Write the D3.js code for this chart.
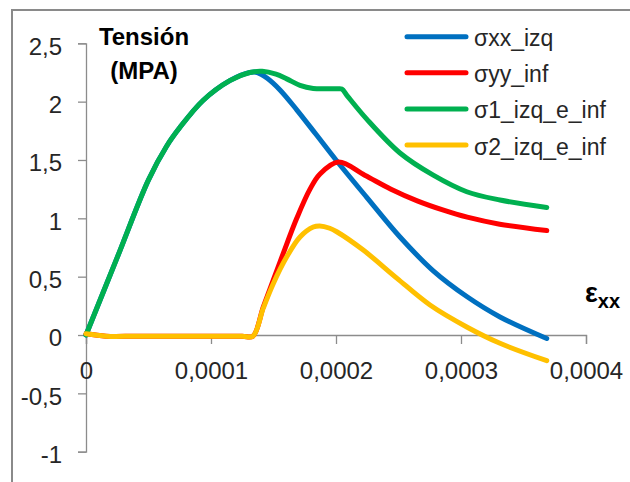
<!DOCTYPE html>
<html><head><meta charset="utf-8">
<script src="https://cdn.jsdelivr.net/npm/d3@7"></script>
<style>
body{margin:0;background:#fff}
svg{display:block}
text{font-family:"Liberation Sans",Arial,sans-serif}
</style>
</head><body>
<svg id="chart" width="630" height="482"></svg>
<script>
// ---- data ----
const seriesNames = ["σxx_izq", "σyy_inf", "σ1_izq_e_inf", "σ2_izq_e_inf"];
const seriesColors = ["#0070C0", "#FF0000", "#00B050", "#FFC000"];

const sxxX = [0, 2.5e-5, 5.0e-5, 6.46e-5, 7.52e-5, 9.36e-5, 11.5e-5, 13.1e-5, 13.7e-5, 14.5e-5, 15.52e-5, 16.86e-5, 18.4e-5, 20.0e-5, 22.46e-5, 25.12e-5, 27.78e-5, 30.46e-5, 33.12e-5, 36.86e-5];
const sxxY = [0, 0.665, 1.33, 1.62, 1.78, 2.01, 2.18, 2.25, 2.25, 2.2, 2.1, 1.93, 1.72, 1.5, 1.18, 0.84, 0.55, 0.33, 0.155, -0.03];

const syyX = [0, 1.6e-5, 4e-5, 7e-5, 10e-5, 12.5e-5, 13.35e-5, 14.18e-5, 14.98e-5, 15.78e-5, 16.86e-5, 17.92e-5, 18.72e-5, 20.2e-5, 22.3e-5, 24.4e-5, 26.5e-5, 28.6e-5, 30.5e-5, 33.1e-5, 36.86e-5];
const syyY = [0.01, -0.01, -0.01, -0.01, -0.01, -0.01, -0.01, 0.24, 0.47, 0.7, 1.0, 1.25, 1.38, 1.482, 1.37, 1.25, 1.15, 1.07, 1.01, 0.95, 0.895];

const s1X = [0, 2.5e-5, 5.0e-5, 6.46e-5, 7.52e-5, 9.36e-5, 11.5e-5, 13.1e-5, 14.1e-5, 15.2e-5, 16.06e-5, 17.12e-5, 18.18e-5, 19.3e-5, 20.1e-5, 20.46e-5, 20.9e-5, 22.46e-5, 25.12e-5, 27.78e-5, 30.46e-5, 33.12e-5, 36.86e-5];
const s1Y = [0, 0.665, 1.33, 1.62, 1.78, 2.01, 2.18, 2.25, 2.26, 2.235, 2.195, 2.14, 2.113, 2.11, 2.11, 2.108, 2.05, 1.85, 1.56, 1.37, 1.228, 1.157, 1.093];

const s2X = [0, 1.6e-5, 4e-5, 7e-5, 10e-5, 12.5e-5, 13.35e-5, 14.18e-5, 14.98e-5, 16.06e-5, 17.12e-5, 18.18e-5, 18.7e-5, 19.5e-5, 20.06e-5, 22.18e-5, 24.86e-5, 27.52e-5, 30.46e-5, 33.12e-5, 36.86e-5];
const s2Y = [0.01, -0.01, -0.01, -0.01, -0.01, -0.01, -0.01, 0.23, 0.44, 0.67, 0.84, 0.925, 0.935, 0.915, 0.885, 0.728, 0.488, 0.257, 0.069, -0.071, -0.22];

const xTicks = [0, 0.0001, 0.0002, 0.0003, 0.0004];
const xTickLabels = ["0", "0,0001", "0,0002", "0,0003", "0,0004"];
const yTicks = [-1, -0.5, 0, 0.5, 1, 1.5, 2, 2.5];
const yTickLabels = ["-1", "-0,5", "0", "0,5", "1", "1,5", "2", "2,5"];

const yTitleLines = ["Tensión", "(MPA)"];
const xTitleMain = "ε";
const xTitleSub = "xx";

// ---- build ----
const series = [
  {name: seriesNames[0], color: seriesColors[0], xs: sxxX, ys: sxxY},
  {name: seriesNames[1], color: seriesColors[1], xs: syyX, ys: syyY},
  {name: seriesNames[2], color: seriesColors[2], xs: s1X, ys: s1Y},
  {name: seriesNames[3], color: seriesColors[3], xs: s2X, ys: s2Y}
].map(s => ({...s, pts: s.xs.map((x, i) => [x, s.ys[i]])}));

const svg = d3.select("#chart");

// outer chart frame
svg.append("rect").attr("x", 12).attr("y", 10).attr("width", 640).attr("height", 500)
  .attr("fill", "#fff").attr("stroke", "#8a8a8a").attr("stroke-width", 2);

const x = d3.scaleLinear().domain([0, 0.0004]).range([86, 586]);
const y = d3.scaleLinear().domain([-1, 2.5]).range([451.7, 43.3]);

const axisColor = "#8c8c8c";
const textColor = "#262626";

// y axis
const gy = svg.append("g").attr("transform", `translate(${x(0)},0)`)
  .call(d3.axisLeft(y).tickValues(yTicks).tickFormat((d, i) => yTickLabels[i])
    .tickSizeInner(8).tickSizeOuter(8).tickPadding(16));
gy.select(".domain").attr("stroke", axisColor).attr("stroke-width", 1.3);
gy.selectAll(".tick line").attr("stroke", axisColor).attr("stroke-width", 1.3);
gy.selectAll(".tick text").attr("font-size", 24).attr("fill", textColor)
  .attr("font-family", "Liberation Sans, Arial, sans-serif").attr("dy", "0.45em");

// x axis at y=0
const gx = svg.append("g").attr("transform", `translate(0,${y(0)})`)
  .call(d3.axisBottom(x).tickValues(xTicks).tickFormat((d, i) => xTickLabels[i])
    .tickSizeInner(9).tickSizeOuter(9).tickPadding(18));
gx.select(".domain").attr("stroke", axisColor).attr("stroke-width", 1.3);
gx.selectAll(".tick line").attr("stroke", axisColor).attr("stroke-width", 1.3);
gx.selectAll(".tick text").attr("font-size", 24).attr("fill", textColor)
  .attr("font-family", "Liberation Sans, Arial, sans-serif");

// series lines
const line = d3.line().x(d => x(d[0])).y(d => y(d[1])).curve(d3.curveCatmullRom.alpha(0.5));
svg.append("g").selectAll("path").data(series).join("path")
  .attr("d", d => line(d.pts))
  .attr("fill", "none")
  .attr("stroke", d => d.color)
  .attr("stroke-width", 5)
  .attr("stroke-linecap", "round")
  .attr("stroke-linejoin", "round");

// y title
svg.append("text").attr("x", 144).attr("y", 45).attr("text-anchor", "middle")
  .attr("font-size", 24).attr("font-weight", "bold").attr("fill", "#000").text(yTitleLines[0]);
svg.append("text").attr("x", 144).attr("y", 79).attr("text-anchor", "middle")
  .attr("font-size", 24).attr("font-weight", "bold").attr("fill", "#000").text(yTitleLines[1]);

// x title epsilon_xx
const xt = svg.append("text").attr("x", 585).attr("y", 302)
  .attr("font-weight", "bold").attr("fill", "#000");
xt.append("tspan").attr("font-size", 27).text(xTitleMain);
xt.append("tspan").attr("font-size", 20).attr("dy", 6).text(xTitleSub);

// legend
const lg = svg.append("g");
const legY0 = 36.7, legStep = 36.1;
series.forEach((s, i) => {
  const ly = legY0 + i * legStep;
  lg.append("line").attr("x1", 407).attr("x2", 466).attr("y1", ly).attr("y2", ly)
    .attr("stroke", s.color).attr("stroke-width", 5).attr("stroke-linecap", "round");
  lg.append("text").attr("x", 474).attr("y", ly + 9.5)
    .attr("font-size", 23).attr("fill", textColor).text(s.name);
});
</script>
</body></html>
